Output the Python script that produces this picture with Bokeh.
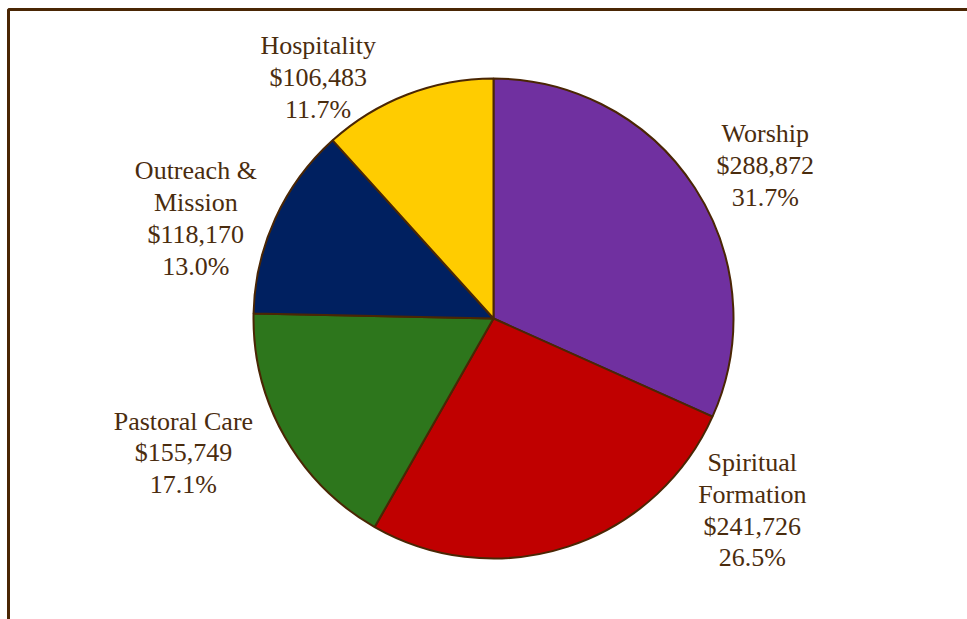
import math
from bokeh.plotting import figure
from bokeh.models import ColumnDataSource, Range1d
from bokeh.core.properties import value
from bokeh.embed import file_html
from bokeh.resources import INLINE

# ---- data ----
categories = ["Worship", "Spiritual Formation", "Pastoral Care", "Outreach & Mission", "Hospitality"]
label_names = ["Worship", "Spiritual\nFormation", "Pastoral Care", "Outreach &\nMission", "Hospitality"]
amounts = [288872, 241726, 155749, 118170, 106483]
colors = ["#7030A0", "#C00000", "#2D761C", "#002060", "#FFCC00"]

# ---- layout constants ----
W, H = 967, 619
cx, cy = 493, H - 318
R = 240
# label placement: angle nudge (deg) from mid-angle and distance (px) from centre
label_nudge = [-3.5, 35.4, -6.1, 6.0, 15.0]
label_dist = [312, 322, 338, 314, 298]
BROWN = "#4A2C0E"
FONT = "Liberation Serif"

total = sum(amounts)
starts, ends, labels, lx, ly = [], [], [], [], []
cum = 0.0
for i, a in enumerate(amounts):
    frac = a / total
    hi = math.pi / 2 - cum * 2 * math.pi
    lo = hi - frac * 2 * math.pi
    starts.append(lo)
    ends.append(hi)
    mid = (lo + hi) / 2 + math.radians(label_nudge[i])
    lx.append(cx + label_dist[i] * math.cos(mid))
    ly.append(cy + label_dist[i] * math.sin(mid))
    labels.append(f"{label_names[i]}\n${a:,}\n{frac*100:.1f}%")
    cum += frac

src = ColumnDataSource(dict(start=starts, end=ends, color=colors, cat=categories))
lsrc = ColumnDataSource(dict(x=lx, y=ly, text=labels))

p = figure(width=W, height=H, output_backend="svg", toolbar_location=None,
           x_range=Range1d(0, W), y_range=Range1d(0, H), min_border=0)
p.axis.visible = False
p.grid.visible = False
p.outline_line_color = None
p.background_fill_color = "white"
p.border_fill_color = "white"

# frame border (top + left)
p.line(x=[8, 8, W + 10], y=[-10, H - 9, H - 9], line_color="#4A2604", line_width=3)

p.wedge(x=cx, y=cy, radius=R, start_angle="start", end_angle="end",
        direction="anticlock", fill_color="color", line_color="#4A2604",
        line_width=2, source=src)

p.text(x="x", y="y", text="text", source=lsrc, text_font=value(FONT),
       text_font_size="26px", text_color=BROWN, text_align="center",
       text_baseline="middle", text_line_height=1.1)

open("out.html", "w").write(file_html(p, INLINE))
